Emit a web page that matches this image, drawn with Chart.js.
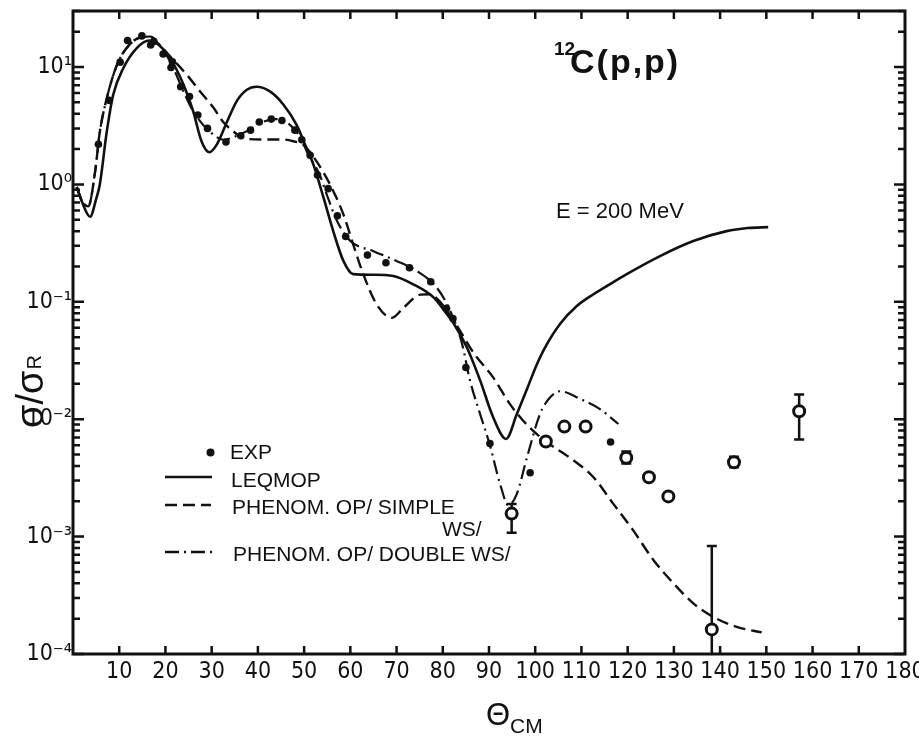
<!DOCTYPE html>
<html>
<head>
<meta charset="utf-8">
<script src="https://cdn.jsdelivr.net/npm/chart.js@4.4.1/dist/chart.umd.min.js"></script>
<style>
  html, body { margin: 0; padding: 0; background: #fff; }
</style>
</head>
<body>
<canvas id="myChart" width="919" height="744"></canvas>
<script>
// axis ticks
const thetaTicks = [10, 20, 30, 40, 50, 60, 70, 80, 90, 100, 110, 120, 130, 140, 150, 160, 170, 180];
const yTickValues = [1e-4, 1e-3, 1e-2, 1e-1, 1, 10];
const yTickLabels = ['10⁻⁴', '10⁻³', '10⁻²', '10⁻¹', '10⁰', '10¹'];

// LEQMOP (solid)
const leqmopTheta = [0.8, 2.0, 3.7, 5.0, 5.8, 7.3, 8.7, 10.9, 13.8, 16.5, 18.5, 21.0, 23.9, 26.0, 27.8, 29.5, 31.1, 33.3, 35.4, 37.6, 39.7, 42.6, 45.5, 48.4, 50.6, 52.0, 54.2, 56.3, 58.5, 60.6, 65.0, 69.3, 73.6, 78.0, 80.9, 82.3, 85.2, 88.1, 90.9, 93.7, 96.0, 98.2, 100.3, 102.0, 105.4, 109.0, 112.6, 116.0, 119.8, 127.0, 134.2, 141.4, 146.0, 150.4];
const leqmopValue = [0.95, 0.70, 0.53, 0.75, 1.0, 2.8, 5.8, 9.8, 14.5, 16.8, 15.5, 11.9, 7.1, 4.2, 2.33, 1.88, 2.18, 3.4, 5.1, 6.4, 6.8, 6.2, 4.8, 3.2, 2.0, 1.48, 0.77, 0.40, 0.223, 0.172, 0.170, 0.166, 0.141, 0.109, 0.0785, 0.066, 0.041, 0.0213, 0.0104, 0.0068, 0.011, 0.018, 0.029, 0.040, 0.065, 0.092, 0.116, 0.14, 0.172, 0.245, 0.329, 0.40, 0.425, 0.433];

// PHENOM. OP / SIMPLE WS (dashed)
const simpleTheta = [0.8, 2.0, 3.3, 4.8, 5.8, 7.3, 9.5, 11.6, 14.5, 16.7, 19.0, 21.7, 24.6, 27.5, 30.4, 32.5, 34.7, 36.8, 41.2, 45.5, 47.7, 49.8, 52.7, 55.6, 58.5, 60.6, 62.8, 65.7, 69.0, 71.5, 75.1, 77.2, 79.4, 83.0, 86.6, 90.9, 94.5, 97.4, 100.3, 103.2, 107.5, 112.6, 116.9, 121.2, 125.6, 129.9, 134.2, 138.5, 143.6, 149.0];
const simpleValue = [0.95, 0.72, 0.65, 1.3, 2.8, 5.4, 10.4, 14.5, 17.8, 18.0, 15.0, 11.5, 8.6, 6.2, 4.5, 3.4, 2.83, 2.48, 2.41, 2.41, 2.33, 2.18, 1.57, 1.0, 0.555, 0.31, 0.172, 0.095, 0.073, 0.089, 0.115, 0.116, 0.1, 0.063, 0.037, 0.0227, 0.0135, 0.0097, 0.0075, 0.0061, 0.0047, 0.0032, 0.0019, 0.00113, 0.00063, 0.0004, 0.00027, 0.000207, 0.00017, 0.000153];

// PHENOM. OP / DOUBLE WS (dash-dot)
const doubleTheta = [0.8, 2.0, 3.3, 4.8, 5.8, 7.3, 9.5, 11.6, 14.5, 16.7, 19.5, 21.7, 23.9, 26.0, 28.2, 30.4, 32.5, 35.0, 38.0, 41.0, 44.0, 47.0, 49.5, 50.6, 53.4, 54.9, 57.1, 60.0, 65.0, 70.0, 74.4, 78.7, 81.6, 84.1, 85.9, 88.1, 90.2, 92.4, 94.2, 96.0, 98.2, 101.0, 103.2, 105.4, 109.7, 114.0, 118.0];
const doubleValue = [0.95, 0.72, 0.65, 1.3, 2.8, 5.4, 10.4, 14.5, 17.8, 18.2, 14.0, 9.8, 6.2, 4.2, 3.2, 2.65, 2.4, 2.55, 2.9, 3.4, 3.6, 3.2, 2.4, 1.9, 1.2, 0.82, 0.49, 0.33, 0.27, 0.223, 0.183, 0.132, 0.084, 0.045, 0.0213, 0.011, 0.006, 0.0028, 0.00185, 0.0023, 0.0047, 0.011, 0.0153, 0.0173, 0.0149, 0.0122, 0.0091];

// EXP, filled dots
const expTheta = [5.5, 7.8, 10.2, 11.8, 14.9, 16.8, 17.5, 19.5, 21.2, 21.5, 23.3, 25.2, 27.0, 29.1, 33.1, 36.3, 38.4, 40.3, 42.9, 45.2, 48.0, 49.5, 51.3, 52.9, 55.2, 57.2, 59.0, 63.7, 67.7, 72.8, 77.4, 80.8, 82.2, 85.0, 90.2, 98.9, 116.3];
const expValue = [2.2, 5.2, 11.0, 16.8, 18.4, 15.4, 16.5, 12.9, 9.9, 11.1, 6.8, 5.6, 3.9, 3.0, 2.3, 2.6, 2.9, 3.4, 3.6, 3.5, 2.9, 2.4, 1.77, 1.20, 0.92, 0.54, 0.36, 0.25, 0.215, 0.195, 0.148, 0.088, 0.072, 0.0276, 0.0062, 0.0035, 0.0064];

// EXP, open circles
const openTheta = [94.9, 102.3, 106.3, 110.9, 119.7, 124.6, 128.8, 138.2, 143.0, 157.1];
const openValue = [0.00157, 0.00646, 0.00865, 0.00865, 0.0047, 0.0032, 0.0022, 0.000162, 0.0043, 0.0117];

// error bars
const errTheta = [94.9, 119.7, 138.2, 143.0, 157.1];
const errLow = [0.00108, 0.0042, 0.00003, 0.0039, 0.0067];
const errHigh = [0.0019, 0.0053, 0.00083, 0.0048, 0.0162];

const INK = '#111';
const NARROW = "'Liberation Sans Narrow', 'DejaVu Sans Condensed', 'Liberation Sans', sans-serif";
const SANS = "'Liberation Sans', 'DejaVu Sans', sans-serif";

function pts(xs, ys) {
    return xs.map((t, i) => ({ x: t, y: ys[i] }));
}

const framePlugin = {
    id: 'frame',
    beforeDatasetsDraw(chart) {
        const { ctx, chartArea: a, scales: { x, y } } = chart;
        ctx.save();
        ctx.beginPath();
        ctx.rect(a.left, a.top, a.right - a.left, a.bottom - a.top);
        ctx.clip();
        ctx.strokeStyle = INK;
        ctx.lineWidth = 2.5;
        errTheta.forEach((t, i) => {
            const px = x.getPixelForValue(t);
            const y1 = y.getPixelForValue(errLow[i]);
            const y2 = y.getPixelForValue(errHigh[i]);
            ctx.beginPath();
            ctx.moveTo(px, y1);
            ctx.lineTo(px, y2);
            ctx.moveTo(px - 5, y1);
            ctx.lineTo(px + 5, y1);
            ctx.moveTo(px - 5, y2);
            ctx.lineTo(px + 5, y2);
            ctx.stroke();
        });
        ctx.restore();
    },
    afterDraw(chart) {
        const { ctx, chartArea: a, scales: { x, y } } = chart;
        ctx.save();
        ctx.strokeStyle = INK;
        ctx.fillStyle = INK;

        // box
        ctx.lineWidth = 3;
        ctx.strokeRect(a.left, a.top, a.right - a.left, a.bottom - a.top);

        // inward ticks
        ctx.lineWidth = 2.5;
        ctx.beginPath();
        thetaTicks.forEach(t => {
            if (t >= 180) return;
            const px = x.getPixelForValue(t);
            ctx.moveTo(px, a.bottom);
            ctx.lineTo(px, a.bottom - 8);
            ctx.moveTo(px, a.top);
            ctx.lineTo(px, a.top + 8);
        });
        yTickValues.forEach(d => {
            for (let m = 1; m <= 9; m++) {
                const v = d * m;
                if (v > y.max) break;
                const py = y.getPixelForValue(v);
                const len = m === 1 ? 11 : 7;
                ctx.moveTo(a.left, py);
                ctx.lineTo(a.left + len, py);
                ctx.moveTo(a.right, py);
                ctx.lineTo(a.right - len, py);
            }
        });
        ctx.stroke();

        // title
        ctx.textBaseline = 'alphabetic';
        ctx.textAlign = 'left';
        ctx.font = 'bold 19px ' + SANS;
        ctx.fillText('12', 554, 55);
        ctx.font = 'bold 34px ' + SANS;
        ctx.letterSpacing = '2px';
        ctx.fillText('C(p,p)', 570, 73);
        ctx.letterSpacing = '0px';

        ctx.font = '22px ' + SANS;
        ctx.fillText('E = 200 MeV', 556, 218);

        // legend
        ctx.font = '21px ' + SANS;
        ctx.beginPath();
        ctx.arc(210.5, 452.5, 4, 0, Math.PI * 2);
        ctx.fill();
        ctx.fillText('EXP', 230, 459);
        ctx.fillText('LEQMOP', 231, 487);
        ctx.fillText('PHENOM. OP/ SIMPLE', 232, 514);
        ctx.fillText('WS/', 442, 536);
        ctx.fillText('PHENOM. OP/ DOUBLE WS/', 233, 561);

        ctx.lineWidth = 2.5;
        ctx.beginPath();
        ctx.moveTo(165, 477);
        ctx.lineTo(212, 477);
        ctx.stroke();
        ctx.setLineDash([12, 6]);
        ctx.beginPath();
        ctx.moveTo(165, 505);
        ctx.lineTo(211, 505);
        ctx.stroke();
        ctx.setLineDash([14, 5, 2, 5]);
        ctx.beginPath();
        ctx.moveTo(165, 552);
        ctx.lineTo(212, 552);
        ctx.stroke();
        ctx.setLineDash([]);

        // x axis title
        ctx.font = '31px ' + SANS;
        ctx.fillText('Θ', 486, 725);
        ctx.font = '21px ' + SANS;
        ctx.fillText('CM', 510, 733);

        // y axis title
        ctx.save();
        ctx.translate(43, 428);
        ctx.rotate(-Math.PI / 2);
        ctx.font = '38px ' + SANS;
        ctx.fillText('σ/σ', 0, 0);
        const w = ctx.measureText('σ/σ').width;
        ctx.font = '20px ' + SANS;
        ctx.fillText('R', w + 1, -2);
        ctx.restore();

        ctx.restore();
    }
};

const ctx = document.getElementById('myChart').getContext('2d');
new Chart(ctx, {
    type: 'line',
    data: {
        datasets: [
            {
                label: 'EXP',
                data: pts(expTheta, expValue),
                showLine: false,
                pointRadius: 3.8,
                pointBackgroundColor: INK,
                pointBorderColor: INK,
                pointBorderWidth: 0,
                order: 0
            },
            {
                label: 'EXP open',
                data: pts(openTheta, openValue),
                showLine: false,
                pointRadius: 5.5,
                pointBackgroundColor: '#fff',
                pointBorderColor: INK,
                pointBorderWidth: 3,
                order: 0
            },
            {
                label: 'LEQMOP',
                data: pts(leqmopTheta, leqmopValue),
                borderColor: INK,
                borderWidth: 2.6,
                pointRadius: 0,
                cubicInterpolationMode: 'monotone',
                order: 1
            },
            {
                label: 'PHENOM. OP/ SIMPLE WS/',
                data: pts(simpleTheta, simpleValue),
                borderColor: INK,
                borderWidth: 2.4,
                borderDash: [12, 6],
                pointRadius: 0,
                cubicInterpolationMode: 'monotone',
                order: 1
            },
            {
                label: 'PHENOM. OP/ DOUBLE WS/',
                data: pts(doubleTheta, doubleValue),
                borderColor: INK,
                borderWidth: 2.2,
                borderDash: [14, 5, 2, 5],
                pointRadius: 0,
                cubicInterpolationMode: 'monotone',
                order: 1
            }
        ]
    },
    options: {
        responsive: false,
        animation: false,
        layout: { padding: { left: 0, right: 14, top: 11, bottom: 0 } },
        plugins: {
            legend: { display: false },
            tooltip: { enabled: false }
        },
        scales: {
            x: {
                type: 'linear',
                min: 0,
                max: 180,
                grid: { display: false, drawTicks: false },
                border: { display: false },
                afterBuildTicks: s => { s.ticks = thetaTicks.map(v => ({ value: v })); },
                afterFit: s => { s.height = 90; s.paddingLeft = 0; s.paddingRight = 0; },
                ticks: {
                    autoSkip: false,
                    maxRotation: 0,
                    padding: 4,
                    color: INK,
                    font: { family: NARROW, size: 23 },
                    callback: v => String(v)
                }
            },
            y: {
                type: 'logarithmic',
                min: 1e-4,
                max: 30,
                grid: { display: false, drawTicks: false },
                border: { display: false },
                afterBuildTicks: s => { s.ticks = yTickValues.map(v => ({ value: v })); },
                afterFit: s => { s.width = 73; s.paddingTop = 0; s.paddingBottom = 0; },
                ticks: {
                    autoSkip: false,
                    padding: 1,
                    color: INK,
                    font: { family: NARROW, size: 23 },
                    callback: (v, i) => yTickLabels[i]
                }
            }
        }
    },
    plugins: [framePlugin]
});
</script>
</body>
</html>
